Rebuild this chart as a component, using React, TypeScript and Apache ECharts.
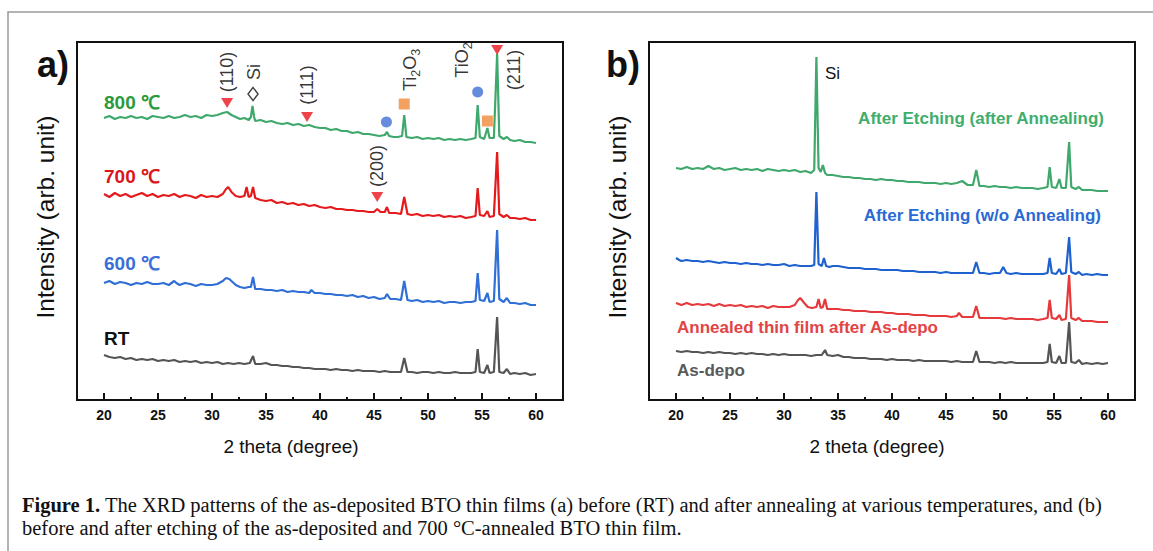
import React, { useEffect, useRef } from "react";
import * as echarts from "echarts";

// ---------- data (intensity in arbitrary units, 2θ in degrees) ----------
const MAJOR_TICKS = [20, 25, 30, 35, 40, 45, 50, 55, 60];
const MINOR_TICKS = [22.5, 27.5, 32.5, 37.5, 42.5, 47.5, 52.5, 57.5];

// panel a
const a800 = [
  [20,282],[20.5,284],[21,281],[21.5,283],[22,282],[22.5,284],[23,282],[23.5,283],[24,281],[24.5,284],[25,283],[25.5,282],[26,284],[26.5,282],[27,283],[27.5,285],[28,283],[28.5,284],[29,282],[29.5,285],[30,284],[30.5,285],[31,287],[31.4,288],[31.8,285],[32.2,283],[32.6,281],[33,282],[33.4,280],[33.6,283],[33.75,294],[33.9,283],[34,279],[34.5,280],[35,278],[35.5,279],[36,277],[36.5,276],[37,277],[37.5,275],[38,276],[38.5,274],[39,275],[39.5,273],[40,272],[40.5,272],[41,270],[41.5,271],[42,269],[42.5,269],[43,267],[43.5,268],[44,266],[44.5,266],[45,265],[45.5,264],[46,265],[46.2,268],[46.4,264],[46.8,263],[47.2,263],[47.6,264],[47.8,285],[48,263],[48.5,262],[49,263],[49.5,261],[50,262],[50.5,261],[51,262],[51.5,260],[52,261],[52.5,260],[53,261],[53.5,260],[54,261],[54.4,262],[54.6,295],[54.8,263],[55.2,261],[55.5,272],[55.7,262],[56.1,262],[56.4,346],[56.6,264],[57,261],[57.3,263],[57.6,260],[58,259],[58.5,260],[59,258],[59.5,258],[60,257],
];
const a700 = [
  [20,206],[20.5,203],[21,207],[21.5,204],[22,206],[22.5,203],[23,205],[23.5,207],[24,204],[24.5,206],[25,203],[25.5,205],[26,204],[26.5,206],[27,203],[27.5,205],[28,204],[28.5,202],[29,205],[29.5,203],[30,204],[30.5,203],[31,206],[31.3,211],[31.5,213],[31.8,208],[32.2,204],[32.6,203],[33,204],[33.2,213],[33.4,203],[33.6,204],[33.8,213],[34,202],[34.5,200],[35,199],[35.5,200],[36,197],[36.5,198],[37,196],[37.5,197],[38,195],[38.5,196],[39,194],[39.5,195],[40,193],[40.5,192],[41,193],[41.5,191],[42,191],[42.5,190],[43,190],[43.5,189],[44,189],[44.5,188],[45,188],[45.3,191],[45.6,188],[46,188],[46.2,193],[46.4,187],[47,187],[47.5,186],[47.8,203],[48.1,186],[48.5,185],[49,186],[49.5,184],[50,185],[50.5,184],[51,185],[51.5,183],[52,184],[52.5,183],[53,184],[53.5,182],[54,183],[54.4,184],[54.6,212],[54.8,185],[55.2,184],[55.5,189],[55.7,183],[56.1,184],[56.4,248],[56.6,186],[57,183],[57.3,185],[57.6,182],[58,182],[58.5,181],[59,182],[59.5,180],[60,180],
];
const a600 = [
  [20,117],[20.5,119],[21,116],[21.5,118],[22,117],[22.5,115],[23,117],[23.5,116],[24,118],[24.5,116],[25,116],[25.5,117],[26,115],[26.5,119],[26.7,117],[27,115],[27.5,117],[28,116],[28.5,114],[29,116],[29.5,115],[30,115],[30.5,116],[31,119],[31.3,122],[31.6,121],[31.9,118],[32.2,115],[32.6,113],[33,112],[33.4,113],[33.6,113],[33.8,123],[34,111],[34.5,111],[35,110],[35.5,110],[36,109],[36.5,110],[37,108],[37.5,109],[38,108],[38.5,108],[39,107],[39.2,110],[39.5,107],[40,107],[40.5,106],[41,106],[41.5,105],[42,105],[42.5,104],[43,105],[43.5,103],[44,104],[44.5,102],[45,103],[45.5,101],[46,102],[46.2,106],[46.5,101],[47,101],[47.5,100],[47.8,119],[48.1,100],[48.5,99],[49,100],[49.5,98],[50,99],[50.5,98],[51,99],[51.5,97],[52,98],[52.5,98],[53,97],[53.5,98],[54,98],[54.4,99],[54.6,127],[54.8,100],[55.2,99],[55.5,107],[55.7,98],[56.1,99],[56.4,170],[56.6,101],[57,98],[57.3,102],[57.6,97],[58,97],[58.5,96],[59,97],[59.5,95],[60,95],
];
const aRT = [
  [20,45],[20.5,43],[21,42],[21.5,43],[22,41],[22.5,42],[23,40],[23.5,41],[24,40],[24.5,41],[25,39],[25.5,40],[26,39],[26.5,40],[27,38],[27.5,39],[28,38],[28.5,39],[29,37],[29.5,38],[30,37],[30.5,38],[31,36],[31.5,37],[32,36],[32.5,37],[33,36],[33.5,37],[33.8,44],[34,36],[34.5,36],[35,37],[35.5,35],[36,35],[36.5,34],[37,34],[37.5,33],[38,33],[38.5,32],[39,32],[39.5,31],[40,31],[40.5,31],[41,30],[41.5,31],[42,30],[42.5,30],[43,29],[43.5,30],[44,29],[44.5,29],[45,29],[45.5,28],[46,29],[46.5,28],[47,28],[47.5,28],[47.8,42],[48.1,28],[48.5,28],[49,27],[49.5,28],[50,28],[50.5,27],[51,28],[51.5,27],[52,27],[52.5,28],[53,27],[53.5,27],[54,27],[54.4,28],[54.6,51],[54.8,28],[55.2,27],[55.5,35],[55.7,27],[56.1,28],[56.4,83],[56.6,28],[57,27],[57.3,31],[57.6,26],[58,27],[58.5,26],[59,27],[59.5,25],[60,26],
];

// panel b
const bEtchAnneal = [
  [20,232],[20.5,231],[21,233],[21.5,231],[22,232],[22.5,231],[23,234],[23.5,231],[24,232],[24.5,230],[25,231],[25.5,232],[26,230],[26.5,231],[27,230],[27.5,231],[28,229],[28.5,231],[29,230],[29.5,229],[30,230],[30.5,229],[31,230],[31.5,228],[32,229],[32.5,227],[32.8,230],[33.0,343],[33.2,232],[33.4,228],[33.6,235],[33.8,227],[34,225],[34.5,225],[35,224],[35.5,223],[36,223],[36.5,222],[37,222],[37.5,221],[38,221],[38.5,220],[39,221],[39.5,220],[40,220],[40.5,219],[41,219],[41.5,218],[42,218],[42.5,218],[43,217],[43.5,217],[44,217],[44.5,216],[45,217],[45.5,216],[46,217],[46.5,219],[47,215],[47.5,215],[47.8,230],[48.1,214],[48.5,214],[49,213],[49.5,214],[50,213],[50.5,213],[51,212],[51.5,213],[52,212],[52.5,212],[53,212],[53.5,211],[54,212],[54.4,213],[54.6,233],[54.8,213],[55.2,212],[55.5,221],[55.7,212],[56.1,212],[56.4,258],[56.6,213],[57,211],[57.3,213],[57.6,210],[58,210],[58.5,210],[59,209],[59.5,209],[60,209],
];
const bEtchNoAnneal = [
  [20,142],[20.3,140],[20.5,139],[21,140],[21.5,139],[22,139],[22.5,138],[23,139],[23.5,138],[24,137],[24.5,138],[25,137],[25.5,137],[26,136],[26.5,137],[27,136],[27.5,136],[28,135],[28.5,136],[29,135],[29.5,135],[30,136],[30.5,134],[31,135],[31.5,134],[32,134],[32.5,134],[32.8,135],[33.0,208],[33.2,136],[33.5,134],[33.7,142],[33.9,134],[34.2,133],[34.5,134],[35,134],[35.5,133],[36,132],[36.5,132],[37,132],[37.5,131],[38,131],[38.5,131],[39,130],[39.5,130],[40,130],[40.5,130],[41,129],[41.5,129],[42,129],[42.5,128],[43,128],[43.5,128],[44,128],[44.5,127],[45,128],[45.5,127],[46,127],[46.5,127],[47,127],[47.5,127],[47.8,138],[48.1,127],[48.5,127],[49,126],[49.5,127],[50,127],[50.3,133],[50.6,127],[51,126],[51.5,127],[52,126],[52.5,126],[53,126],[53.5,126],[54,126],[54.4,127],[54.6,142],[54.8,127],[55.2,126],[55.5,131],[55.7,126],[56.1,127],[56.4,163],[56.6,128],[57,126],[57.3,128],[57.6,125],[58,126],[58.5,125],[59,126],[59.5,125],[60,125],
];
const bAnnealed = [
  [20,97],[20.5,95],[21,97],[21.5,95],[22,96],[22.5,95],[23,96],[23.5,94],[24,96],[24.5,94],[25,95],[25.5,94],[26,95],[26.5,93],[27,94],[27.5,93],[28,94],[28.5,92],[29,94],[29.5,93],[30,93],[30.5,93],[31,95],[31.3,100],[31.5,102],[31.8,98],[32.2,93],[32.6,92],[33,93],[33.2,101],[33.4,92],[33.6,93],[33.8,101],[34,91],[34.5,91],[35,91],[35.5,90],[36,90],[36.5,89],[37,89],[37.5,89],[38,88],[38.5,88],[39,88],[39.5,87],[40,87],[40.5,86],[41,86],[41.5,86],[42,85],[42.5,85],[43,85],[43.5,84],[44,84],[44.5,84],[45,84],[45.5,83],[46,84],[46.2,87],[46.5,83],[47,83],[47.5,83],[47.8,94],[48.1,82],[48.5,82],[49,82],[49.5,82],[50,82],[50.5,81],[51,82],[51.5,81],[52,81],[52.5,81],[53,81],[53.5,80],[54,81],[54.4,82],[54.6,100],[54.8,82],[55.2,81],[55.5,85],[55.7,80],[56.1,81],[56.4,125],[56.6,82],[57,80],[57.3,82],[57.6,79],[58,79],[58.5,79],[59,78],[59.5,78],[60,78],
];
const bAsDepo = [
  [20,49],[20.5,48],[21,49],[21.5,48],[22,48],[22.5,47],[23,48],[23.5,47],[24,48],[24.5,47],[25,47],[25.5,46],[26,47],[26.5,46],[27,47],[27.5,46],[28,46],[28.5,45],[29,46],[29.5,45],[30,46],[30.5,45],[31,45],[31.5,45],[32,45],[32.5,44],[33,45],[33.5,45],[33.8,50],[34,45],[34.5,44],[35,45],[35.5,43],[36,43],[36.5,42],[37,42],[37.5,42],[38,41],[38.5,41],[39,41],[39.5,40],[40,41],[40.5,40],[41,40],[41.5,40],[42,39],[42.5,40],[43,39],[43.5,39],[44,39],[44.5,39],[45,39],[45.5,38],[46,39],[46.5,38],[47,38],[47.5,38],[47.8,49],[48.1,38],[48.5,38],[49,38],[49.5,37],[50,38],[50.5,37],[51,38],[51.5,37],[52,37],[52.5,37],[53,37],[53.5,37],[54,37],[54.4,38],[54.6,56],[54.8,38],[55.2,37],[55.5,44],[55.7,37],[56.1,37],[56.4,78],[56.6,38],[57,37],[57.3,40],[57.6,36],[58,37],[58.5,36],[59,37],[59.5,36],[60,37],
];

// peak markers (panel a)
const markBTO = [[31.4, 297], [38.8, 283], [45.3, 203], [56.4, 350]];
const markSi = [[33.8, 306]];
const markTiO2 = [[46.15, 278], [54.6, 308]];
const markTi2O3 = [[47.8, 296], [55.5, 279]];
const peakLabels = [
  { value: [31.4, 328], name: "(110)" },
  { value: [33.85, 328], name: "Si" },
  { value: [38.8, 315], name: "(111)" },
  { value: [45.3, 234], name: "(200)" },
  { value: [48.5, 330], name: "{m|Ti}{s|2}{m|O}{s|3}" },
  { value: [53.3, 340], name: "{m|TiO}{s|2}" },
  { value: [57.95, 330], name: "(211)" },
];

const SANS = "'Liberation Sans', Arial, sans-serif";
const SERIF = "'Liberation Serif', 'Times New Roman', serif";

function xAxes(grid: number) {
  return [
    {
      type: "value", gridIndex: grid, min: 17.5, max: 62.5, position: "bottom",
      axisLine: { show: true, onZero: false, lineStyle: { color: "#111", width: 2 } },
      axisTick: { show: true, inside: true, length: 7, customValues: MAJOR_TICKS, lineStyle: { color: "#111", width: 2 } },
      axisLabel: { customValues: MAJOR_TICKS, fontWeight: "bold", fontSize: 14, color: "#111", margin: 8, fontFamily: SANS },
      splitLine: { show: false },
    },
    {
      type: "value", gridIndex: grid, min: 17.5, max: 62.5, position: "bottom", offset: 0,
      axisLine: { show: false },
      axisTick: { show: true, inside: true, length: 3, customValues: MINOR_TICKS, lineStyle: { color: "#111", width: 2 } },
      axisLabel: { show: false },
      splitLine: { show: false },
    },
  ];
}

function line(data: number[][], color: string, xi: number, yi: number) {
  return {
    type: "line", data, xAxisIndex: xi, yAxisIndex: yi, symbol: "none", showSymbol: false,
    lineStyle: { color, width: 2.2 }, z: 2, silent: true,
  };
}

function marker(data: number[][], symbol: string, color: string, size: number | number[], rotate = 0, empty = false) {
  return {
    type: "scatter", data, xAxisIndex: 0, yAxisIndex: 0, symbol, symbolSize: size, symbolRotate: rotate,
    itemStyle: empty ? { color: "#fff", borderColor: "#111", borderWidth: 1.5 } : { color },
    z: 5, silent: true,
  };
}

function txt(x: number, y: number, text: string, fill: string, size: number, weight = "normal", align = "left", rot = 0, family = SANS) {
  return {
    type: "text", x, y, rotation: rot, silent: true, z: 10,
    style: { text, fill, fontSize: size, fontWeight: weight, fontFamily: family, textAlign: align, textVerticalAlign: "middle" },
  };
}

export default function App() {
  const ref = useRef<HTMLDivElement>(null);
  useEffect(() => {
    if (!ref.current) return;
    const chart = echarts.init(ref.current, undefined, { renderer: "svg" });
    const option = {
      animation: false,
      backgroundColor: "#fff",
      grid: [
        { left: 77, top: 42, width: 486, height: 358, show: true, borderColor: "#111", borderWidth: 2, backgroundColor: "transparent" },
        { left: 649, top: 42, width: 486, height: 358, show: true, borderColor: "#111", borderWidth: 2, backgroundColor: "transparent" },
      ],
      xAxis: [...xAxes(0), ...xAxes(1)],
      yAxis: [
        { type: "value", gridIndex: 0, min: 0, max: 358, show: false, splitLine: { show: false } },
        { type: "value", gridIndex: 1, min: 0, max: 358, show: false, splitLine: { show: false } },
      ],
      series: [
        line(a800, "#3fa86c", 0, 0),
        line(a700, "#e41a1c", 0, 0),
        line(a600, "#2f6fd6", 0, 0),
        line(aRT, "#555555", 0, 0),
        line(bEtchAnneal, "#3fa86c", 2, 1),
        line(bEtchNoAnneal, "#1f62cf", 2, 1),
        line(bAnnealed, "#e6393b", 2, 1),
        line(bAsDepo, "#555555", 2, 1),
        marker(markBTO, "triangle", "#e8141c", [12, 10], 180),
        marker(markSi, "diamond", "#111", [10, 13], 0, true),
        marker(markTiO2, "circle", "#3f6fd6", 11),
        marker(markTi2O3, "rect", "#f08a3a", 11),
        {
          type: "scatter", data: peakLabels, xAxisIndex: 0, yAxisIndex: 0, symbolSize: 1,
          itemStyle: { color: "rgba(0,0,0,0)" }, silent: true, z: 6,
          label: {
            show: true, position: "inside", rotate: 90, formatter: (p: any) => p.name,
            color: "#000", fontSize: 18, fontFamily: SANS,
            rich: {
              m: { fontSize: 18, lineHeight: 21, verticalAlign: "top", color: "#000", fontFamily: SANS },
              s: { fontSize: 12.5, lineHeight: 14, padding: [9, 0, 0, 0], verticalAlign: "bottom", color: "#000", fontFamily: SANS },
            },
          },
        },
      ],
      graphic: [
        { type: "rect", shape: { x: 8, y: 12, width: 1300, height: 700 }, style: { fill: "none", stroke: "#9a9a9a", lineWidth: 1.5 }, silent: true, z: 0 },
        txt(37, 64, "a)", "#111", 36, "bold"),
        txt(606, 64, "b)", "#111", 36, "bold"),
        txt(104, 102, "800 ℃", "#2a9a3a", 19, "bold"),
        txt(104, 176, "700 ℃", "#d9161c", 19, "bold"),
        txt(104, 263, "600 ℃", "#3a6fd8", 19, "bold"),
        txt(104, 338, "RT", "#111", 19, "bold"),
        txt(825, 73, "Si", "#111", 17),
        txt(1104, 118, "After Etching (after Annealing)", "#3fae6c", 17, "bold", "right"),
        txt(1101, 215, "After Etching (w/o Annealing)", "#2a6ad4", 17, "bold", "right"),
        txt(677, 327, "Annealed thin film after As-depo", "#e24446", 17, "bold"),
        txt(677, 370, "As-depo", "#5a5a5a", 17, "bold"),
        txt(45, 217, "Intensity (arb. unit)", "#111", 24.5, "normal", "center", Math.PI / 2),
        txt(617, 217, "Intensity (arb. unit)", "#111", 24.5, "normal", "center", Math.PI / 2),
        txt(291, 446, "2 theta (degree)", "#111", 19, "normal", "center"),
        txt(877, 446, "2 theta (degree)", "#111", 19, "normal", "center"),
        {
          type: "text", x: 22, y: 505, silent: true, z: 10,
          style: {
            text: "{b|Figure 1.} The XRD patterns of the as-deposited BTO thin films (a) before (RT) and after annealing at various temperatures, and (b)",
            rich: { b: { fontWeight: "bold", fontFamily: SERIF, fontSize: 20.5, fill: "#111" } },
            fill: "#111", fontSize: 20.5, fontFamily: SERIF, textAlign: "left", textVerticalAlign: "middle",
          },
        },
        txt(22, 528, "before and after etching of the as-deposited and 700 °C-annealed BTO thin film.", "#111", 20.5, "normal", "left", 0, SERIF),
      ],
    };
    chart.setOption(option as any);
    return () => chart.dispose();
  }, []);
  return <div ref={ref} style={{ position: "fixed", left: 0, top: 0, width: 1153, height: 551 }} />;
}
